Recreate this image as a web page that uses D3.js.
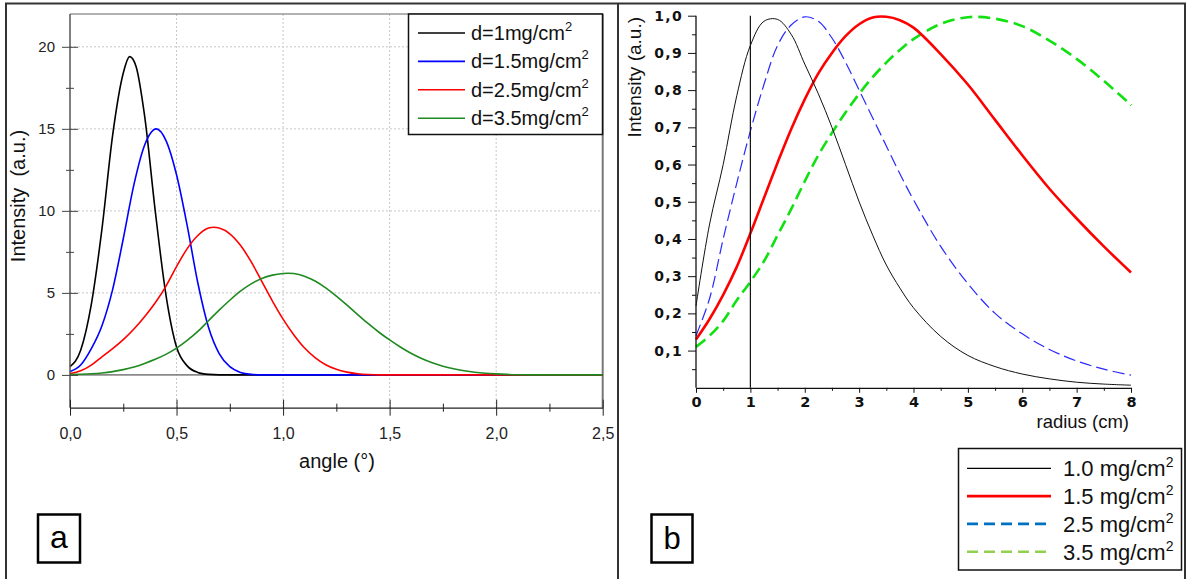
<!DOCTYPE html>
<html><head><meta charset="utf-8">
<script src="https://cdn.jsdelivr.net/npm/d3@7"></script>
<style>html,body{margin:0;padding:0;background:#fff;}svg{display:block;}</style>
</head><body>
<svg id="c" width="1192" height="579"></svg>
<script>
// ---------- Panel a data ----------
const aTicksX = [0, 0.5, 1.0, 1.5, 2.0, 2.5];
const aTicksY = [0, 5, 10, 15, 20];
const aLegend = ["d=1mg/cm", "d=1.5mg/cm", "d=2.5mg/cm", "d=3.5mg/cm"];
const aColors = ["#000000", "#0000ff", "#ff0000", "#1f8a1f"];

const blackAngle = [0,0.05,0.1,0.15,0.2,0.25,0.28,0.31,0.35,0.4,0.45,0.5,0.55,0.6,0.65,0.7,2.5];
const blackI     = [0.5,1.5,4.3,8.9,14.6,18.4,19.4,18.8,15.8,10.0,4.9,1.7,0.55,0.15,0.03,0,0];

const blueAngle = [0,0.05,0.1,0.15,0.2,0.25,0.3,0.35,0.405,0.45,0.5,0.55,0.6,0.65,0.7,0.75,0.8,0.85,0.9,2.5];
const blueI     = [0.2,0.6,1.6,3.0,5.2,8.3,11.6,14.0,15.0,14.3,12.2,9.1,5.6,2.9,1.3,0.5,0.15,0.03,0,0];

const redAngle = [0,0.05,0.1,0.15,0.2,0.25,0.3,0.35,0.4,0.45,0.5,0.55,0.6,0.65,0.675,0.7,0.75,0.8,0.85,0.9,0.95,1.0,1.05,1.1,1.15,1.2,1.25,1.3,1.35,1.4,1.45,2.5];
const redI     = [0.08,0.25,0.6,1.1,1.6,2.15,2.8,3.55,4.4,5.4,6.6,7.7,8.5,8.95,9.0,8.95,8.6,7.9,6.9,5.7,4.5,3.4,2.45,1.65,1.05,0.62,0.34,0.17,0.07,0.02,0,0];

const greenAngle = [0,0.05,0.1,0.15,0.2,0.25,0.3,0.35,0.4,0.45,0.5,0.55,0.6,0.65,0.7,0.75,0.8,0.85,0.9,0.95,1.0,1.025,1.05,1.1,1.15,1.2,1.25,1.3,1.35,1.4,1.45,1.5,1.55,1.6,1.65,1.7,1.75,1.8,1.85,1.9,1.95,2.0,2.05,2.1,2.2,2.5];
const greenI     = [0.02,0.04,0.07,0.12,0.2,0.32,0.48,0.7,0.95,1.25,1.63,2.1,2.65,3.3,3.95,4.55,5.1,5.55,5.88,6.08,6.18,6.2,6.18,6.02,5.72,5.3,4.8,4.25,3.68,3.12,2.6,2.13,1.7,1.32,1.0,0.74,0.53,0.37,0.25,0.16,0.1,0.06,0.03,0.01,0,0];

// ---------- Panel b data ----------
const radius = [0,0.25,0.5,0.75,1.0,1.25,1.5,1.75,2.0,2.25,2.5,2.75,3.0,3.25,3.5,3.75,4.0,4.5,5.0,5.5,6.0,6.5,7.0,7.5,8.0];
const b10 = [0.22,0.44,0.60,0.785,0.92,0.985,0.99,0.95,0.87,0.79,0.70,0.60,0.50,0.41,0.33,0.268,0.215,0.138,0.087,0.057,0.037,0.024,0.015,0.01,0.007];
const b15 = [0.13,0.185,0.25,0.325,0.415,0.51,0.605,0.695,0.775,0.845,0.90,0.945,0.977,0.995,0.997,0.988,0.968,0.897,0.815,0.72,0.625,0.535,0.455,0.38,0.31];
const b25 = [0.14,0.24,0.40,0.55,0.69,0.815,0.92,0.975,0.997,0.985,0.94,0.875,0.80,0.725,0.65,0.575,0.505,0.38,0.28,0.20,0.145,0.103,0.072,0.05,0.034];
const b35 = [0.11,0.14,0.18,0.235,0.285,0.34,0.41,0.48,0.555,0.625,0.685,0.74,0.79,0.835,0.874,0.908,0.937,0.978,0.996,0.992,0.972,0.933,0.884,0.825,0.76];
const bTicksX = [0,1,2,3,4,5,6,7,8];
const bTicksY = [0.1,0.2,0.3,0.4,0.5,0.6,0.7,0.8,0.9,1.0];
const bLegend = ["1.0 mg/cm", "1.5 mg/cm", "2.5 mg/cm", "3.5 mg/cm"];

// ---------- Drawing ----------
const svg = d3.select("#c");
const loc = d3.formatLocale({decimal: ",", thousands: ".", grouping: [3], currency: ["", ""]});
const f1 = loc.format(".1f");
const SANS = "'Liberation Sans', Arial, sans-serif";

// Outer frame + divider
svg.append("path").attr("d", "M6,582 L6,3.5 L1185,3.5 L1185,582 M618,3.5 L618,582")
  .attr("fill", "none").attr("stroke", "#333").attr("stroke-width", 2);

// ===== Panel a =====
const ax = d3.scaleLinear([0, 2.5], [70, 602.7]);
const ay = d3.scaleLinear([-2, 22], [407.7, 14]);
const ga = svg.append("g");

// grid
ga.selectAll(".gv").data(aTicksX.filter(d => d > 0 && d < 2.5)).join("line")
  .attr("x1", d => ax(d)).attr("x2", d => ax(d)).attr("y1", ay(22)).attr("y2", ay(-2))
  .attr("stroke", "#c8c8c8").attr("stroke-dasharray", "2,2").attr("stroke-width", 1);
ga.selectAll(".gh").data(aTicksY.filter(d => d > 0)).join("line")
  .attr("x1", ax(0)).attr("x2", ax(2.5)).attr("y1", d => ay(d)).attr("y2", d => ay(d))
  .attr("stroke", "#c8c8c8").attr("stroke-dasharray", "2,2").attr("stroke-width", 1);
// zero line
ga.append("line").attr("x1", ax(0)).attr("x2", ax(2.5)).attr("y1", ay(0)).attr("y2", ay(0))
  .attr("stroke", "#8a8a8a").attr("stroke-width", 1.6);
// top and right frame
ga.append("line").attr("x1", ax(0)).attr("x2", ax(2.5)).attr("y1", ay(22)).attr("y2", ay(22))
  .attr("stroke", "#666").attr("stroke-width", 1.2);
ga.append("line").attr("x1", ax(2.5)).attr("x2", ax(2.5)).attr("y1", ay(22)).attr("y2", ay(-2))
  .attr("stroke", "#777").attr("stroke-width", 2);

// curves
const aSeries = [[blackAngle, blackI], [blueAngle, blueI], [redAngle, redI], [greenAngle, greenI]];
const aLine = d3.line().x(d => ax(d[0])).y(d => ay(d[1])).curve(d3.curveMonotoneX);
aSeries.forEach((s, i) => {
  ga.append("path").datum(s[0].map((a, k) => [a, s[1][k]])).attr("d", aLine)
    .attr("fill", "none").attr("stroke", aColors[i]).attr("stroke-width", 1.6);
});

// y axis
const ayAxis = ga.append("g").attr("transform", `translate(${ax(0)},0)`)
  .call(d3.axisLeft(ay).tickValues(aTicksY).tickSize(8).tickSizeOuter(0).tickPadding(7));
ayAxis.select(".domain").attr("stroke", "#555").attr("stroke-width", 1.5)
  .attr("d", `M0,${ay(22)}V${ay(-2)}`);
ayAxis.selectAll(".tick line").attr("x1", 8).attr("stroke", "#444");
ayAxis.selectAll("text").attr("font-family", SANS).attr("font-size", 15).attr("fill", "#222");
const ayMinor = ga.append("g").attr("transform", `translate(${ax(0)},0)`)
  .call(d3.axisLeft(ay).tickValues([2.5, 7.5, 12.5, 17.5]).tickSize(4).tickFormat(""));
ayMinor.select(".domain").remove();
ayMinor.selectAll(".tick line").attr("x1", 4).attr("stroke", "#444");

// x axis
const axAxis = ga.append("g").attr("transform", `translate(0,${ay(-2)})`)
  .call(d3.axisBottom(ax).tickValues(aTicksX).tickFormat(f1).tickSize(8).tickSizeOuter(0).tickPadding(12));
axAxis.select(".domain").attr("stroke", "#222").attr("stroke-width", 1.3);
axAxis.selectAll(".tick line").attr("y1", -8).attr("stroke", "#222");
axAxis.selectAll("text").attr("font-family", SANS).attr("font-size", 16).attr("fill", "#222");
const axMinor = ga.append("g").attr("transform", `translate(0,${ay(-2)})`)
  .call(d3.axisBottom(ax).tickValues([0.25, 0.75, 1.25, 1.75, 2.25]).tickSize(4).tickFormat(""));
axMinor.select(".domain").remove();
axMinor.selectAll(".tick line").attr("y1", -4).attr("stroke", "#222");

// axis titles
ga.append("text").attr("x", 337).attr("y", 468).attr("text-anchor", "middle")
  .attr("font-family", SANS).attr("font-size", 20).attr("fill", "#111").text("angle (°)");
ga.append("text").attr("transform", "translate(25,196) rotate(-90)").attr("text-anchor", "middle")
  .attr("font-family", SANS).attr("font-size", 20).attr("fill", "#111").attr("xml:space", "preserve")
  .text("Intensity  (a.u.)");

// legend a
const la = ga.append("g");
la.append("rect").attr("x", 408.5).attr("y", 14).attr("width", 194).attr("height", 120.5)
  .attr("fill", "#fff").attr("stroke", "#111").attr("stroke-width", 1.5);
aLegend.forEach((t, i) => {
  const yy = 33 + i * 28.4;
  la.append("line").attr("x1", 418).attr("x2", 465).attr("y1", yy).attr("y2", yy)
    .attr("stroke", aColors[i]).attr("stroke-width", 1.6);
  const tx = la.append("text").attr("x", 471).attr("y", yy + 7)
    .attr("font-family", SANS).attr("font-size", 20).attr("fill", "#111").text(t);
  tx.append("tspan").attr("font-size", 13).attr("dy", -9).text("2");
});

// label a
svg.append("rect").attr("x", 38).attr("y", 514.5).attr("width", 42).attr("height", 48)
  .attr("fill", "none").attr("stroke", "#000").attr("stroke-width", 2.5);
svg.append("text").attr("x", 59).attr("y", 548).attr("text-anchor", "middle")
  .attr("font-family", SANS).attr("font-size", 32).attr("fill", "#000").text("a");

// ===== Panel b =====
const bx = d3.scaleLinear([0, 8], [696, 1131]);
const by = d3.scaleLinear([0, 1], [387.8, 15.7]);
const gb = svg.append("g");
const BOLD = "'DejaVu Sans', Verdana, sans-serif";

const bLine = d3.line().x((d, k) => bx(radius[k])).y(d => by(d)).curve(d3.curveCatmullRom.alpha(0.5));
gb.append("path").datum(b35).attr("d", bLine).attr("fill", "none").attr("stroke", "#11e011")
  .attr("stroke-width", 2.6).attr("stroke-dasharray", "12,6");
gb.append("path").datum(b25).attr("d", bLine).attr("fill", "none").attr("stroke", "#2a2aff")
  .attr("stroke-width", 1.2).attr("stroke-dasharray", "12,5");
gb.append("path").datum(b15).attr("d", bLine).attr("fill", "none").attr("stroke", "#ff0000")
  .attr("stroke-width", 2.6);
gb.append("path").datum(b10).attr("d", bLine).attr("fill", "none").attr("stroke", "#111")
  .attr("stroke-width", 1);

// vertical line at r=1
gb.append("line").attr("x1", bx(1)).attr("x2", bx(1)).attr("y1", by(1)).attr("y2", by(0))
  .attr("stroke", "#111").attr("stroke-width", 1.2);

// y axis
const byAxis = gb.append("g").attr("transform", `translate(${bx(0)},0)`)
  .call(d3.axisLeft(by).tickValues(bTicksY).tickFormat(f1).tickSize(8).tickSizeOuter(0).tickPadding(5));
byAxis.select(".domain").attr("stroke", "#111").attr("stroke-width", 1.3)
  .attr("d", `M0,${by(1)}V${by(0)}`);
byAxis.selectAll(".tick line").attr("stroke", "#111");
byAxis.selectAll("text").attr("font-family", BOLD).attr("font-weight", "bold").attr("font-size", 14)
  .attr("letter-spacing", 1.3).attr("fill", "#111");
const byMinor = gb.append("g").attr("transform", `translate(${bx(0)},0)`)
  .call(d3.axisLeft(by).tickValues([0.05,0.15,0.25,0.35,0.45,0.55,0.65,0.75,0.85,0.95]).tickSize(4).tickFormat(""));
byMinor.select(".domain").remove();
byMinor.selectAll(".tick line").attr("stroke", "#111");

// x axis
const bxAxis = gb.append("g").attr("transform", `translate(0,${by(0)})`)
  .call(d3.axisBottom(bx).tickValues(bTicksX).tickFormat(d3.format("d")).tickSize(5).tickSizeOuter(0).tickPadding(4));
bxAxis.select(".domain").attr("stroke", "#111").attr("stroke-width", 1.3);
bxAxis.selectAll(".tick line").attr("stroke", "#111");
bxAxis.selectAll("text").attr("font-family", BOLD).attr("font-weight", "bold").attr("font-size", 14.5)
  .attr("fill", "#111");
const bxMinor = gb.append("g").attr("transform", `translate(0,${by(0)})`)
  .call(d3.axisBottom(bx).tickValues([0.5,1.5,2.5,3.5,4.5,5.5,6.5,7.5]).tickSize(3).tickFormat(""));
bxMinor.select(".domain").remove();
bxMinor.selectAll(".tick line").attr("stroke", "#111");

// axis titles
gb.append("text").attr("x", 1129).attr("y", 428).attr("text-anchor", "end")
  .attr("font-family", SANS).attr("font-size", 18.5).attr("fill", "#111").text("radius (cm)");
gb.append("text").attr("transform", "translate(641,17) rotate(-90)").attr("text-anchor", "end")
  .attr("font-family", SANS).attr("font-size", 19).attr("fill", "#111").text("Intensity (a.u.)");

// legend b
const lb = gb.append("g");
lb.append("rect").attr("x", 958.5).attr("y", 448.5).attr("width", 223).attr("height", 121.5)
  .attr("fill", "#fff").attr("stroke", "#111").attr("stroke-width", 1.5);
const lbStyles = [
  {c: "#000", w: 1.2, d: null},
  {c: "#ff0000", w: 2.6, d: null},
  {c: "#0070c0", w: 2.6, d: "11,6"},
  {c: "#92d050", w: 2.6, d: "11,6"}
];
bLegend.forEach((t, i) => {
  const yy = 468.3 + i * 27.8;
  lb.append("line").attr("x1", 967).attr("x2", 1051).attr("y1", yy).attr("y2", yy)
    .attr("stroke", lbStyles[i].c).attr("stroke-width", lbStyles[i].w)
    .attr("stroke-dasharray", lbStyles[i].d);
  const tx = lb.append("text").attr("x", 1063).attr("y", yy + 8)
    .attr("font-family", SANS).attr("font-size", 22).attr("fill", "#111").text(t);
  tx.append("tspan").attr("font-size", 14).attr("dy", -9).text("2");
});

// label b
svg.append("rect").attr("x", 651.5).attr("y", 514.5).attr("width", 41).attr("height", 48)
  .attr("fill", "none").attr("stroke", "#000").attr("stroke-width", 2.5);
svg.append("text").attr("x", 672).attr("y", 549).attr("text-anchor", "middle")
  .attr("font-family", SANS).attr("font-size", 31).attr("fill", "#000").text("b");
</script>
</body></html>
